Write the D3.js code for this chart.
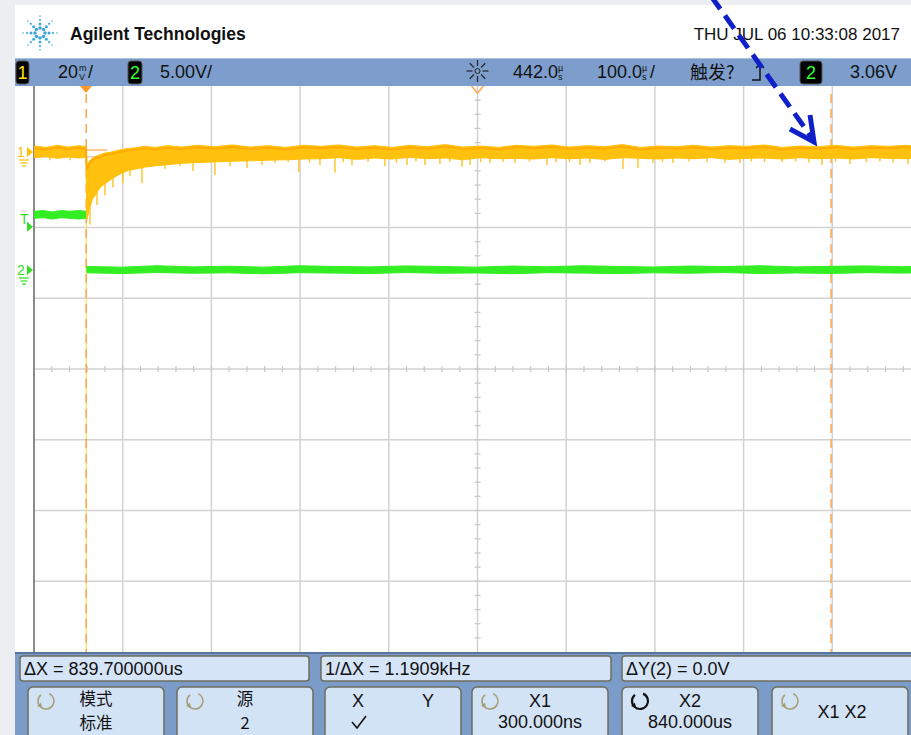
<!DOCTYPE html>
<html>
<head>
<meta charset="utf-8">
<script src="https://cdn.jsdelivr.net/npm/d3@7"></script>
<style>
body { margin: 0; background: #eceef2; }
svg text { font-family: "Liberation Sans", Arial, sans-serif; }
.cjk { font-family: "Noto Sans CJK SC", "Liberation Sans", sans-serif; }
</style>
</head>
<body>
<svg id="scope"></svg>
<script>
// ---- values ----
// time in us (trigger at 0), ch1 in mV, ch2 in V
var ch1Time = [-58, -45, -32, -20, -8, 0,
  1, 4, 7, 11, 16, 21, 27, 33, 40, 48, 56, 66, 78, 92, 108, 125, 145, 165, 185, 205, 225, 245,
  265, 285, 305, 325, 345, 365, 385, 405, 425, 445, 465, 485, 505, 525, 545, 565, 585, 605, 625,
  645, 665, 685, 705, 725, 745, 765, 785, 805, 825, 845, 865, 885, 905, 925, 941];
var ch1Hi = [1.7, 1.3, 1.9, 1.4, 1.8, 1.5,
  -4.5, -2.5, -1.8, -1.2, -0.8, -0.3, -0.1, 0.3, 0.7, 1.0, 1.2, 1.6, 1.3, 1.8, 1.4, 1.9, 1.5, 2.0, 1.4, 1.8, 1.3, 1.9,
  1.6, 2.0, 1.4, 1.8, 1.3, 1.9, 1.5, 2.1, 1.4, 1.7, 1.3, 1.9, 1.6, 2.0, 1.4, 1.8, 1.5, 2.1, 1.3,
  1.7, 1.5, 1.9, 1.4, 1.8, 1.6, 2.0, 1.3, 1.7, 1.5, 1.9, 1.4, 1.8, 1.6, 1.9, 1.5];
var ch1Lo = [-1.6, -1.3, -1.8, -1.4, -1.7, -1.5,
  -19, -16, -13.5, -12, -10, -9, -8, -7, -6, -5.2, -4.8, -4.3, -3.9, -3.6, -3.2, -3.0, -2.8, -2.6, -2.5, -2.3, -2.2, -2.0,
  -1.9, -1.6, -2.1, -1.7, -2.0, -1.5, -1.9, -1.7, -2.2, -1.6, -1.9, -1.8, -2.0, -1.6, -1.9, -1.7, -2.1,
  -1.6, -1.8, -2.0, -1.7, -1.9, -1.6, -2.1, -1.8, -1.7, -2.0, -1.6, -1.9, -1.7, -2.0, -1.6, -1.8, -1.9, -1.7];

var ch1SpikeT = [-40.6, -18, 4.5, 12.4, 21.4, 30.4, 41.7, 49.6, 63.1, 74.4, 89.1, 106, 120.6, 145.4,
  162.3, 181.5, 198.4, 213, 228, 240, 252, 263.8, 280.7, 290, 299.9, 318, 337, 350, 361.9, 372, 382.2,
  399, 410, 423.9, 433, 445, 455.5, 470, 483.7, 500, 519.7, 530, 545, 557, 568, 585, 605.4, 622.3,
  639.2, 650, 661.8, 680, 700, 720.4, 737.3, 750, 765, 784.7, 800, 815, 829.8, 845, 861.3, 880, 895, 910, 926.7];
var ch1SpikeV = [-2.3, -2.3, -20.5, -15, -12.2, -10, -8.8, -6.8, -8.8, -4.0, -4.8, -4.0, -5.4, -6.5,
  -4.0, -4.5, -3.7, -3.1, -2.8, -5.7, -3.0, -3.7, -5.9, -2.9, -3.7, -2.8, -4.0, -3.0, -3.7, -2.7, -3.7,
  -3.4, -2.8, -4.2, -3.7, -2.9, -3.1, -2.8, -3.1, -2.7, -3.7, -2.9, -2.8, -3.7, -3.1, -2.7, -4.8, -4.5,
  -3.1, -2.8, -3.1, -2.7, -2.9, -3.1, -3.1, -2.7, -2.9, -2.8, -2.7, -3.0, -3.7, -2.8, -3.4, -2.9, -2.7, -3.0, -3.4];

var ch2Time = [-58, -48, -38, -28, -18, -8, 0,
  1, 40, 80, 120, 160, 200, 240, 280, 320, 360, 400, 440, 480, 520, 560, 600, 640, 680, 720, 760, 800, 840, 880, 920, 941];
var ch2Hi = [4.15, 4.2, 4.1, 4.2, 4.15, 4.2, 4.15,
  0.25, 0.2, 0.3, 0.22, 0.27, 0.2, 0.3, 0.25, 0.22, 0.29, 0.25, 0.2, 0.28, 0.23, 0.3, 0.25, 0.21, 0.28, 0.24, 0.3, 0.22, 0.26, 0.29, 0.23, 0.25];
var ch2Lo = [3.65, 3.7, 3.6, 3.7, 3.65, 3.6, 3.65,
  -0.2, -0.25, -0.18, -0.23, -0.2, -0.27, -0.19, -0.22, -0.25, -0.18, -0.23, -0.21, -0.26, -0.19, -0.22, -0.25, -0.2, -0.23, -0.18, -0.25, -0.21, -0.24, -0.19, -0.22, -0.2];

var cursorX1 = 0.3, cursorX2 = 840;   // us
var trigLevel = 3.06;                 // V on ch2
var rowOne = ["\u0394X = 839.700000us", "1/\u0394X = 1.1909kHz", "\u0394Y(2) = 0.0V"];
var softKeys = [["\u6a21\u5f0f", "\u6807\u51c6"], ["\u6e90", "2"], ["X", "Y"], ["X1", "300.000ns"], ["X2", "840.000us"], ["X1 X2"]];

var W = 911, H = 735;
var svg = d3.select("#scope").attr("width", W).attr("height", H);

// screen scales: 10 x 8 divisions
var pLeft = 34, pRight = 921, pTop = 86, pBottom = 652;
var gx = d3.scaleLinear().domain([0, 10]).range([pLeft, pRight]);
var gy = d3.scaleLinear().domain([-4, 4]).range([pBottom, pTop]);
var x = d3.scaleLinear().domain([-58.6, 941.4]).range([pLeft, pRight]);   // 100us/div
var y1 = d3.scaleLinear().domain([0, 20]).range([152, 152 - 70.75]);      // 20mV/div
var y2 = d3.scaleLinear().domain([0, 5]).range([270, 270 - 70.75]);       // 5V/div

svg.append("rect").attr("width", W).attr("height", H).attr("fill", "#eceef2");
svg.append("rect").attr("x", 15).attr("y", 5).attr("width", W - 15).attr("height", H - 5).attr("fill", "#fff");

// grid
var grid = svg.append("g");
grid.selectAll("line.v").data(d3.range(1, 10)).join("line").attr("class", "v")
    .attr("x1", function(d) { return gx(d); }).attr("x2", function(d) { return gx(d); })
    .attr("y1", pTop).attr("y2", pBottom)
    .attr("stroke", "#d2d2d2").attr("stroke-width", 1.5);
grid.selectAll("line.h").data(d3.range(-3, 4)).join("line").attr("class", "h")
    .attr("x1", pLeft).attr("x2", W)
    .attr("y1", function(d) { return gy(d); }).attr("y2", function(d) { return gy(d); })
    .attr("stroke", "#d2d2d2").attr("stroke-width", 1.5);
grid.selectAll("line.mx").data(d3.range(1, 50)).join("line").attr("class", "mx")
    .attr("x1", function(d) { return gx(d / 5); }).attr("x2", function(d) { return gx(d / 5); })
    .attr("y1", gy(0) - 3).attr("y2", gy(0) + 3)
    .attr("stroke", "#c8c8c8").attr("stroke-width", 1.2);
grid.selectAll("line.my").data(d3.range(-19, 20)).join("line").attr("class", "my")
    .attr("y1", function(d) { return gy(d / 5); }).attr("y2", function(d) { return gy(d / 5); })
    .attr("x1", gx(5) - 3).attr("x2", gx(5) + 3)
    .attr("stroke", "#c8c8c8").attr("stroke-width", 1.2);
grid.append("line").attr("x1", pLeft).attr("x2", pLeft).attr("y1", pTop).attr("y2", pBottom)
    .attr("stroke", "#8a8a8a").attr("stroke-width", 2);

// cursors
svg.append("line").attr("x1", x(cursorX1)).attr("x2", x(cursorX1)).attr("y1", 205).attr("y2", pBottom)
    .attr("stroke", "#ffd866").attr("stroke-width", 1.2);
svg.selectAll("line.cur").data([cursorX1, cursorX2]).join("line").attr("class", "cur")
    .attr("x1", function(d) { return x(d); }).attr("x2", function(d) { return x(d); })
    .attr("y1", pTop + 8).attr("y2", pBottom)
    .attr("stroke", "#ffa64d").attr("stroke-width", 1.5).attr("stroke-dasharray", "9 6");

// ch2 trace
var ch2 = ch2Time.map(function(t, i) { return {t: t, hi: ch2Hi[i], lo: ch2Lo[i]}; });
var area2 = d3.area().x(function(d) { return x(d.t); })
    .y0(function(d) { return y2(d.lo); }).y1(function(d) { return y2(d.hi); });
[ch2.filter(function(d) { return d.t <= 0; }), ch2.filter(function(d) { return d.t > 0; })].forEach(function(seg) {
  svg.append("path").attr("d", area2(seg)).attr("fill", "#33ee22").attr("stroke", "#33ee22").attr("stroke-width", 1);
});

// ch1 trace
var ch1 = ch1Time.map(function(t, i) { return {t: t, hi: ch1Hi[i], lo: ch1Lo[i]}; });
function loAt(t) {
  var i = Math.max(1, Math.min(ch1Time.length - 1, d3.bisectLeft(ch1Time, t)));
  var a = ch1[i - 1], b = ch1[i], f = (t - a.t) / (b.t - a.t);
  return a.lo + (b.lo - a.lo) * f;
}
svg.selectAll("line.spk").data(ch1SpikeT).join("line").attr("class", "spk")
    .attr("x1", function(d) { return x(d); }).attr("x2", function(d) { return x(d); })
    .attr("y1", function(d) { return y1(loAt(d) + 1); })
    .attr("y2", function(d, i) { return y1(ch1SpikeV[i]); })
    .attr("stroke", "#ffc633").attr("stroke-width", 1.5);
var area1 = d3.area().x(function(d) { return x(d.t); })
    .y0(function(d) { return y1(d.lo); }).y1(function(d) { return y1(d.hi); });
svg.append("path").attr("d", area1(ch1)).attr("fill", "#ffc10e").attr("stroke", "#ffc10e").attr("stroke-width", 1);
svg.append("path")
    .attr("d", d3.line().x(function(d) { return x(d.t); }).y(function(d) { return y1(d.hi) + 2; })(ch1))
    .attr("fill", "none").attr("stroke", "#ffab00").attr("stroke-width", 2);
svg.append("line").attr("x1", x(0)).attr("x2", x(24)).attr("y1", 150).attr("y2", 150)
    .attr("stroke", "#ffa64d").attr("stroke-width", 1.2);

// left markers
function groundSym(g, cx, cy, col) {
  [0, 3, 6].forEach(function(o, k) {
    g.append("line").attr("x1", cx - 5 + k * 1.5).attr("x2", cx + 5 - k * 1.5)
      .attr("y1", cy + o).attr("y2", cy + o).attr("stroke", col).attr("stroke-width", 1.2);
  });
}
var mk = svg.append("g");
mk.append("text").attr("x", 17).attr("y", y1(0) + 5).attr("font-size", 14).attr("fill", "#ffc000").text("1");
mk.append("path").attr("d", d3.line()([[27, y1(0) - 5], [33, y1(0)], [27, y1(0) + 5]])).attr("fill", "#ffc000");
groundSym(mk, 24, y1(0) + 8, "#ffc000");
mk.append("text").attr("x", 20).attr("y", y2(trigLevel) - 3).attr("font-size", 14).attr("fill", "#33dd22").text("T");
mk.append("path").attr("d", d3.line()([[27, y2(trigLevel) - 5], [33, y2(trigLevel)], [27, y2(trigLevel) + 5]])).attr("fill", "#33dd22");
mk.append("text").attr("x", 17).attr("y", y2(0) + 5).attr("font-size", 14).attr("fill", "#33dd22").text("2");
mk.append("path").attr("d", d3.line()([[27, y2(0) - 5], [33, y2(0)], [27, y2(0) + 5]])).attr("fill", "#33dd22");
groundSym(mk, 24, y2(0) + 8, "#33dd22");

// header
var logo = svg.append("g").attr("transform", "translate(40,33)");
d3.range(8).forEach(function(k) {
  var a = k * Math.PI / 4;
  [5, 9, 13, 17].forEach(function(r, j) {
    logo.append("circle").attr("cx", Math.cos(a) * r).attr("cy", Math.sin(a) * r)
      .attr("r", [1.8, 1.5, 1.1, 0.8][j]).attr("fill", "#3fa8d8");
  });
});
svg.append("text").attr("x", 70).attr("y", 40).attr("font-size", 17.5).attr("font-weight", "bold")
    .attr("fill", "#111").text("Agilent Technologies");
svg.append("text").attr("x", 900).attr("y", 40).attr("font-size", 17).attr("text-anchor", "end")
    .attr("fill", "#111").text("THU JUL 06 10:33:08 2017");

// top status bar
var bar = svg.append("g");
bar.append("rect").attr("x", 15).attr("y", 58).attr("width", W - 15).attr("height", 28).attr("fill", "#7d9ecd");
bar.append("line").attr("x1", 15).attr("x2", W).attr("y1", 58.5).attr("y2", 58.5).attr("stroke", "#a8c0e0");
function chanBox(bx, w, label, col) {
  bar.append("rect").attr("x", bx).attr("y", 61).attr("width", w).attr("height", 23).attr("rx", 3)
    .attr("fill", "#000").attr("stroke", "#555");
  bar.append("text").attr("x", bx + w / 2).attr("y", 79).attr("text-anchor", "middle")
    .attr("font-size", 18).attr("fill", col).text(label);
}
chanBox(16, 13, "1", "#ffe000");
chanBox(128, 14, "2", "#33ff33");
chanBox(800, 22, "2", "#33ff33");
function stacked(sx, a, b) {
  bar.append("text").attr("x", sx).attr("y", 71).attr("font-size", 9).attr("fill", "#111").text(a);
  bar.append("text").attr("x", sx).attr("y", 80).attr("font-size", 9).attr("fill", "#111").text(b);
}
bar.append("text").attr("x", 58).attr("y", 78).attr("font-size", 18).attr("fill", "#111").text("20");
stacked(79, "m", "V");
bar.append("text").attr("x", 88).attr("y", 78).attr("font-size", 18).attr("fill", "#111").text("/");
bar.append("text").attr("x", 160).attr("y", 78).attr("font-size", 18).attr("fill", "#111").text("5.00V/");
bar.append("text").attr("x", 513).attr("y", 78).attr("font-size", 18).attr("fill", "#111").text("442.0");
stacked(558, "\u00b5", "s");
bar.append("text").attr("x", 597).attr("y", 78).attr("font-size", 18).attr("fill", "#111").text("100.0");
stacked(642, "\u00b5", "s");
bar.append("text").attr("x", 650).attr("y", 78).attr("font-size", 18).attr("fill", "#111").text("/");
bar.append("text").attr("class", "cjk").attr("x", 690).attr("y", 79).attr("font-size", 18).attr("fill", "#111").text("\u89e6\u53d1?");
bar.append("text").attr("x", 850).attr("y", 78).attr("font-size", 18).attr("fill", "#111").text("3.06V");
bar.append("path").attr("d", "M752,80 H760 V64 M756,68 L760,64 L764,68")
    .attr("fill", "none").attr("stroke", "#111").attr("stroke-width", 1.5);
var sun = bar.append("g").attr("transform", "translate(" + gx(5) + ",71)");
d3.range(8).forEach(function(k) {
  var a = k * Math.PI / 4;
  sun.append("line").attr("x1", Math.cos(a) * 5).attr("y1", Math.sin(a) * 5)
    .attr("x2", Math.cos(a) * 11).attr("y2", Math.sin(a) * 11).attr("stroke", "#222").attr("stroke-width", 1.2);
});
sun.append("circle").attr("r", 2.5).attr("fill", "none").attr("stroke", "#222");

// trigger and delay markers
svg.append("path").attr("d", d3.line()([[x(0) - 6, pTop], [x(0) + 6, pTop], [x(0), pTop + 7]])).attr("fill", "#ff9a26");
svg.append("path").attr("d", d3.line()([[gx(5) - 6, pTop], [gx(5), pTop + 7], [gx(5) + 6, pTop]]))
    .attr("fill", "none").attr("stroke", "#ffa64d").attr("stroke-width", 1.5);

// bottom soft-key panel
var pnl = svg.append("g");
pnl.append("rect").attr("x", 15).attr("y", pBottom).attr("width", W - 15).attr("height", H - pBottom).attr("fill", "#7b9bc8");
pnl.append("line").attr("x1", 15).attr("x2", W).attr("y1", pBottom + 1).attr("y2", pBottom + 1).attr("stroke", "#56759e").attr("stroke-width", 2);
var rowX = [20, 321, 622], rowW = [289, 290, 300];
rowOne.forEach(function(s, i) {
  pnl.append("rect").attr("x", rowX[i]).attr("y", 656).attr("width", rowW[i]).attr("height", 25).attr("rx", 3)
    .attr("fill", "#d5e4f7").attr("stroke", "#6e6e5e").attr("stroke-width", 1.5);
  pnl.append("text").attr("x", rowX[i] + 4).attr("y", 675).attr("font-size", 18).attr("fill", "#111").text(s);
});
var keyX = [28, 177, 325, 472, 622, 772], keyW = 136;
softKeys.forEach(function(lines, i) {
  var kx = keyX[i], cx = kx + keyW / 2;
  pnl.append("rect").attr("x", kx).attr("y", 687).attr("width", keyW).attr("height", 52).attr("rx", 5)
    .attr("fill", "#d3e3f6").attr("stroke", "#6e6e5e").attr("stroke-width", 1.5);
  if (i !== 2) {
    var sel = (i === 4);
    var ic = pnl.append("g").attr("transform", "translate(" + (kx + 18) + ",701)");
    ic.append("path").attr("d", d3.arc()({innerRadius: 8, outerRadius: 8, startAngle: 0.4, endAngle: 5.6}))
      .attr("fill", "none").attr("stroke", sel ? "#111" : "#a59e74").attr("stroke-width", sel ? 2.2 : 1.5);
    ic.append("path").attr("d", "M-10,-2 L-5,-2 L-7.5,3 Z").attr("transform", "rotate(-40)")
      .attr("fill", sel ? "#111" : "#a59e74");
  }
  if (i === 2) {
    pnl.append("text").attr("x", 358).attr("y", 707).attr("font-size", 18).attr("text-anchor", "middle").attr("fill", "#111").text(lines[0]);
    pnl.append("text").attr("x", 428).attr("y", 707).attr("font-size", 18).attr("text-anchor", "middle").attr("fill", "#111").text(lines[1]);
    pnl.append("path").attr("d", "M352,722 L357,728 L366,716").attr("fill", "none").attr("stroke", "#111").attr("stroke-width", 1.6);
  } else if (lines.length === 1) {
    pnl.append("text").attr("x", cx + 2).attr("y", 718).attr("font-size", 18).attr("text-anchor", "middle").attr("fill", "#111").text(lines[0]);
  } else {
    var cjk = i < 2;
    lines.forEach(function(s, j) {
      pnl.append("text").attr("class", cjk ? "cjk" : null).attr("x", cx).attr("y", cjk ? 705 + j * 24 : 707 + j * 21)
        .attr("font-size", cjk ? 16.5 : 18).attr("text-anchor", "middle").attr("fill", "#111").text(s);
    });
  }
});

// annotation arrow
var ann = svg.append("g").attr("stroke", "#1020c8").attr("fill", "none").attr("stroke-width", 5);
ann.append("line").attr("x1", 711).attr("y1", -4).attr("x2", 812).attr("y2", 138).attr("stroke-dasharray", "16 8");
ann.append("path").attr("d", "M790,129 L814,142 L810,115").attr("stroke-linejoin", "miter");
</script>
</body>
</html>
